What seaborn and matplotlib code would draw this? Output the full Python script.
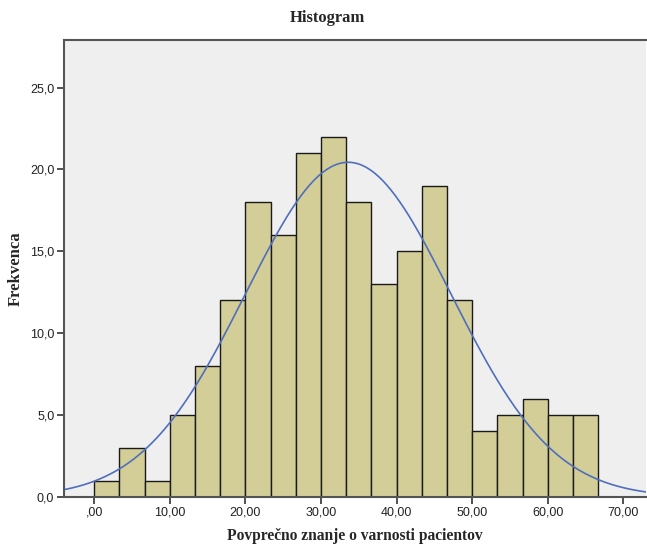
import numpy as np
import pandas as pd
import matplotlib
matplotlib.use('Agg')
import matplotlib.pyplot as plt
import seaborn as sns
from matplotlib.ticker import FuncFormatter

# histogram bins (width 3.333) and counts
bin_edges = [i * 10 / 3 for i in range(21)]
counts = [1, 3, 1, 5, 8, 12, 18, 16, 21, 22, 18, 13, 15, 19, 12, 4, 5, 6, 5, 5]

# fitted normal curve parameters
mean_val = 33.6
sd_val = 13.6

x_ticks = [0, 10, 20, 30, 40, 50, 60, 70]
y_ticks = [0, 5, 10, 15, 20, 25]

centers = [(bin_edges[i] + bin_edges[i + 1]) / 2 for i in range(len(counts))]
df = pd.DataFrame({'znanje': centers, 'n': counts})

sns.set_style('white')
plt.rcParams['font.family'] = ['Liberation Sans', 'DejaVu Sans']

fig = plt.figure(figsize=(6.47, 5.45), dpi=100)
ax = fig.add_axes([64 / 647, 1 - 497 / 545, 582 / 647, 457 / 545])
ax.set_facecolor('#efefef')

sns.histplot(data=df, x='znanje', weights='n', bins=bin_edges, ax=ax,
             color='#d3ce97', edgecolor='#1a1a1a', linewidth=1.0, alpha=1.0)

bw = bin_edges[1] - bin_edges[0]
n_total = sum(counts)
xs = np.linspace(-4, 73, 400)
ys = n_total * bw / (sd_val * np.sqrt(2 * np.pi)) * np.exp(-0.5 * ((xs - mean_val) / sd_val) ** 2)
sns.lineplot(x=xs, y=ys, ax=ax, color='#4f6fbd', linewidth=1.2)

ax.set_xlim(-4, 73)
ax.set_ylim(0, 27.9)
ax.set_xticks(x_ticks)
ax.set_yticks(y_ticks)
ax.xaxis.set_major_formatter(FuncFormatter(lambda v, p: ',00' if v == 0 else f'{v:.2f}'.replace('.', ',')))
ax.yaxis.set_major_formatter(FuncFormatter(lambda v, p: f'{v:.1f}'.replace('.', ',')))
ax.tick_params(axis='both', direction='out', length=5, width=1.2, color='#333333',
               labelsize=9, labelcolor='#222222', pad=2)
ax.tick_params(axis='x', bottom=True)
ax.tick_params(axis='y', left=True)

for side in ['left', 'top', 'bottom']:
    ax.spines[side].set_color('#555555')
    ax.spines[side].set_linewidth(1.5)
ax.spines['right'].set_visible(False)

serif = ['Liberation Serif', 'DejaVu Serif']
fig.text(327 / 647, 1 - 18 / 545, 'Histogram', family=serif, fontweight='bold',
         fontsize=12, ha='center', va='center')
ax.set_xlabel('Povprečno znanje o varnosti pacientov', family=serif, fontweight='bold',
              fontsize=11.2, labelpad=7)
ax.set_ylabel('Frekvenca', family=serif, fontweight='bold', fontsize=12)
ax.yaxis.set_label_coords(-0.069, 0.5)

fig.savefig('out.png', dpi=100)
